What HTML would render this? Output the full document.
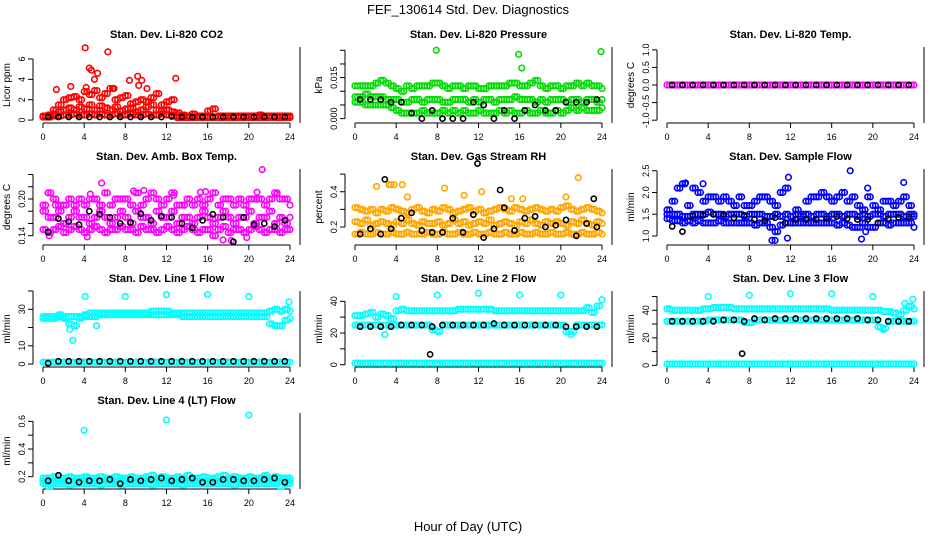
<!DOCTYPE html>
<html><head><meta charset="utf-8">
<style>
html,body{margin:0;padding:0;background:#fff;}
svg{display:block;font-family:"Liberation Sans",Arial,sans-serif;}
</style></head>
<body>
<svg id="chart" width="936" height="540" viewBox="0 0 936 540" xmlns="http://www.w3.org/2000/svg">
<text x="468" y="14" text-anchor="middle" font-size="13">FEF_130614  Std. Dev. Diagnostics</text>
<text x="468" y="531" text-anchor="middle" font-size="13">Hour of Day (UTC)</text>
</svg>
<script>
const xTicks=[0,4,8,12,16,20,24];
const blackHours=[0.5,1.5,2.5,3.5,4.5,5.5,6.5,7.5,8.5,9.5,10.5,11.5,12.5,13.5,14.5,15.5,16.5,17.5,18.5,19.5,20.5,21.5,22.5,23.5];
const colHours=[0,0.5,1,1.5,2,2.5,3,3.5,4,4.5,5,5.5,6,6.5,7,7.5,8,8.5,9,9.5,10,10.5,11,11.5,12,12.5,13,13.5,14,14.5,15,15.5,16,16.5,17,17.5,18,18.5,19,19.5,20,20.5,21,21.5,22,22.5,23,23.5,24];

const p1Hi=[0.4,0.5,1.0,1.5,2.0,2.2,2.3,2.0,2.8,2.5,2.9,2.2,2.6,3.1,2.0,2.2,2.4,1.6,1.8,2.0,1.8,2.2,2.6,1.5,1.8,2.0,0.7,0.5,0.4,0.6,0.4,0.4,0.9,1.1,0.4,0.4,0.4,0.4,0.4,0.4,0.4,0.4,0.5,0.4,0.4,0.4,0.4,0.4,0.4];
const p1Mid=[0.3,0.3,0.6,0.8,1.0,1.2,1.0,1.3,1.1,1.5,1.0,1.4,1.2,1.0,1.3,0.9,1.1,1.2,0.8,1.0,1.3,1.5,1.0,0.9,1.0,0.8,0.4,0.3,0.3,0.3,0.3,0.3,0.3,0.3,0.3,0.3,0.3,0.3,0.3,0.3,0.3,0.3,0.3,0.3,0.3,0.3,0.3,0.3,0.3];
const p1Lo=[0.3,0.3,0.4,0.4,0.5,0.5,0.6,0.5,0.5,0.6,0.5,0.6,0.5,0.5,0.6,0.5,0.5,0.6,0.5,0.5,0.6,0.5,0.5,0.6,0.5,0.5,0.25,0.25,0.25,0.25,0.25,0.25,0.25,0.25,0.25,0.25,0.25,0.25,0.25,0.25,0.25,0.25,0.25,0.25,0.25,0.25,0.25,0.25,0.25];
const p1OutX=[1.3,2.7,4.1,4.2,4.5,4.7,5.0,5.3,6.3,6.9,8.4,9.2,9.3,9.6,10.1,12.9];
const p1OutY=[3.0,3.3,7.1,3.2,5.1,4.9,4.0,4.6,6.7,3.1,3.9,4.3,3.4,3.9,3.1,4.1];
const p1Black=[0.3,0.3,0.3,0.3,0.3,0.3,0.3,0.3,0.3,0.3,0.3,0.3,0.35,0.3,0.3,0.3,0.3,0.3,0.3,0.3,0.3,0.3,0.3,0.3];

const p2Hi=[0.012,0.012,0.012,0.012,0.013,0.014,0.013,0.012,0.011,0.010,0.012,0.011,0.012,0.012,0.012,0.013,0.013,0.012,0.011,0.012,0.012,0.011,0.012,0.012,0.011,0.011,0.012,0.012,0.012,0.012,0.013,0.013,0.012,0.012,0.013,0.014,0.012,0.011,0.012,0.012,0.011,0.012,0.012,0.013,0.012,0.013,0.012,0.012,0.011];
const p2Mid=[0.008,0.008,0.009,0.008,0.008,0.008,0.007,0.007,0.007,0.006,0.006,0.007,0.007,0.006,0.007,0.007,0.007,0.006,0.006,0.007,0.007,0.007,0.006,0.007,0.006,0.007,0.007,0.006,0.007,0.007,0.007,0.008,0.007,0.007,0.007,0.006,0.007,0.006,0.007,0.007,0.007,0.006,0.007,0.007,0.006,0.007,0.007,0.006,0.007];
const p2Lo=[0.006,0.006,0.005,0.005,0.005,0.005,0.005,0.004,0.003,0.002,0.002,0.002,0.002,0.003,0.002,0.002,0.002,0.003,0.002,0.003,0.002,0.003,0.002,0.002,0.003,0.002,0.002,0.002,0.003,0.002,0.003,0.002,0.002,0.003,0.002,0.002,0.003,0.002,0.002,0.003,0.002,0.003,0.004,0.003,0.004,0.003,0.003,0.003,0.004];
const p2OutX=[7.9,15.9,16.2,23.9];
const p2OutY=[0.025,0.0235,0.0185,0.0245];
const p2Black=[0.007,0.007,0.007,0.006,0.006,0.002,0.000,0.003,0.000,0.000,0.000,0.006,0.005,0.000,0.003,0.000,0.003,0.005,0.003,0.003,0.006,0.006,0.006,0.007];

const p3Hi=[0,0,0,0,0,0,0,0,0,0,0,0,0,0,0,0,0,0,0,0,0,0,0,0,0,0,0,0,0,0,0,0,0,0,0,0,0,0,0,0,0,0,0,0,0,0,0,0,0];
const p3Black=[0,0,0,0,0,0,0,0,0,0,0,0,0,0,0,0,0,0,0,0,0,0,0,0];

const p4Hi=[0.19,0.21,0.20,0.19,0.19,0.20,0.19,0.20,0.19,0.20,0.20,0.19,0.21,0.19,0.20,0.20,0.20,0.19,0.21,0.19,0.20,0.21,0.20,0.19,0.20,0.21,0.19,0.19,0.20,0.19,0.20,0.19,0.20,0.21,0.19,0.20,0.20,0.19,0.20,0.19,0.20,0.20,0.20,0.19,0.20,0.21,0.20,0.20,0.19];
const p4Mid=[0.18,0.17,0.17,0.18,0.16,0.17,0.18,0.17,0.17,0.16,0.17,0.18,0.17,0.16,0.17,0.18,0.17,0.16,0.18,0.17,0.17,0.16,0.18,0.17,0.17,0.18,0.16,0.17,0.17,0.16,0.17,0.18,0.17,0.16,0.17,0.18,0.17,0.16,0.17,0.17,0.18,0.16,0.17,0.17,0.18,0.16,0.17,0.16,0.17];
const p4Lo=[0.15,0.145,0.15,0.155,0.145,0.15,0.155,0.15,0.145,0.15,0.155,0.15,0.145,0.15,0.15,0.155,0.15,0.15,0.145,0.155,0.15,0.15,0.145,0.15,0.155,0.15,0.145,0.15,0.155,0.15,0.145,0.15,0.15,0.14,0.15,0.155,0.145,0.15,0.15,0.145,0.15,0.155,0.15,0.145,0.15,0.15,0.145,0.15,0.15];
const p4OutX=[0.5,1.2,4.6,5.7,8.8,9.8,12.7,15.3,15.8,20.8,21.3,22.7,0.6,4.3,17.5,18.3,19.8];
const p4OutY=[0.21,0.19,0.208,0.226,0.213,0.214,0.206,0.211,0.212,0.211,0.248,0.208,0.14,0.138,0.133,0.132,0.137];
const p4Black=[0.146,0.168,0.163,0.158,0.180,0.175,0.170,0.160,0.162,0.176,0.165,0.172,0.170,0.160,0.153,0.165,0.175,0.170,0.130,0.170,0.158,0.160,0.155,0.165];

const p5Hi=[0.31,0.30,0.29,0.30,0.28,0.30,0.29,0.31,0.30,0.29,0.28,0.30,0.31,0.29,0.28,0.30,0.29,0.31,0.30,0.28,0.29,0.30,0.31,0.29,0.30,0.28,0.29,0.30,0.31,0.30,0.29,0.31,0.30,0.29,0.30,0.31,0.30,0.29,0.30,0.29,0.31,0.32,0.30,0.29,0.30,0.31,0.30,0.29,0.28];
const p5Mid=[0.23,0.22,0.24,0.21,0.22,0.23,0.22,0.21,0.23,0.22,0.24,0.22,0.21,0.23,0.22,0.22,0.23,0.21,0.22,0.24,0.22,0.23,0.21,0.22,0.23,0.22,0.24,0.21,0.22,0.23,0.22,0.21,0.23,0.22,0.24,0.22,0.21,0.23,0.22,0.23,0.22,0.21,0.23,0.22,0.24,0.22,0.21,0.23,0.22];
const p5Lo=[0.16,0.17,0.16,0.16,0.17,0.16,0.16,0.17,0.16,0.16,0.17,0.16,0.16,0.16,0.17,0.16,0.16,0.17,0.16,0.16,0.17,0.16,0.16,0.17,0.16,0.16,0.17,0.16,0.16,0.17,0.16,0.16,0.17,0.16,0.16,0.17,0.16,0.16,0.17,0.16,0.16,0.17,0.16,0.16,0.17,0.16,0.16,0.17,0.16];
const p5OutX=[2.1,3.3,3.5,3.8,4.6,5.1,8.7,10.6,12.3,15.2,16.3,21.7,20.5];
const p5OutY=[0.43,0.44,0.44,0.44,0.44,0.37,0.42,0.38,0.40,0.36,0.36,0.48,0.37];
const p5Black=[0.16,0.19,0.16,0.19,0.25,0.28,0.18,0.17,0.17,0.25,0.17,0.27,0.14,0.19,0.31,0.18,0.25,0.26,0.20,0.21,0.24,0.15,0.22,0.20];
const p5BlackOutX=[2.9,11.9,14.1,23.2];
const p5BlackOutY=[0.47,0.56,0.41,0.36];

const p6Hi=[1.6,1.8,2.1,2.2,1.7,2.1,2.0,1.8,1.9,1.9,1.8,1.9,1.8,1.7,1.9,1.7,1.7,1.8,1.9,1.9,1.8,1.7,2.0,2.1,1.3,1.6,1.5,1.8,1.9,1.9,2.0,1.9,1.8,1.9,2.0,1.8,1.9,1.7,1.6,1.9,1.7,1.6,1.8,1.8,1.7,1.8,1.9,1.7,1.5];
const p6Mid=[1.5,1.5,1.5,1.45,1.45,1.5,1.5,1.5,1.55,1.5,1.5,1.45,1.5,1.5,1.5,1.45,1.5,1.5,1.5,1.45,1.45,1.5,1.45,1.5,1.45,1.5,1.45,1.5,1.45,1.5,1.5,1.45,1.5,1.5,1.45,1.5,1.5,1.45,1.5,1.45,1.5,1.5,1.45,1.5,1.5,1.5,1.45,1.5,1.45];
const p6Lo=[1.4,1.35,1.35,1.3,1.35,1.3,1.35,1.3,1.3,1.3,1.35,1.3,1.3,1.3,1.3,1.3,1.3,1.25,1.3,1.3,1.2,1.1,1.25,1.3,1.3,1.3,1.3,1.3,1.3,1.3,1.3,1.3,1.3,1.25,1.3,1.25,1.2,1.2,1.3,1.2,1.2,1.3,1.3,1.25,1.3,1.3,1.3,1.3,1.2];
const p6OutX=[1.5,1.8,3.5,10.2,10.5,11.7,17.8,18.9,19.5,19.3,11.8,23.0];
const p6OutY=[2.2,2.22,2.2,0.9,0.9,0.95,2.5,0.93,2.1,1.1,2.35,2.23];
const p6Black=[1.22,1.10,1.46,1.48,1.50,1.50,1.42,1.48,1.38,1.35,1.42,1.30,1.38,1.38,1.38,1.40,1.45,1.40,1.38,1.38,1.30,1.40,1.43,1.44];

const p7Hi=[26,26,26,27,26,26,26,26,27,28,28,28,28,28,28,28,28,28,28,28,28,29,29,29,29,28,28,28,28,28,28,28,28,28,28,28,28,28,28,28,28,28,28,28,29,30,29,30,29];
const p7Mid=[25,25,25,26,25,22,21,25,26,26,26,27,27,27,27,27,27,27,27,27,27,27,27,27,27,27,27,26,26,26,26,26,26,26,26,26,26,26,26,26,26,26,26,26,22,21,21,24,25];
const p7Lo=[1,1,1,1,1,1,1,1,1,1,1,1,1,1,1,1,1,1,1,1,1,1,1,1,1,1,1,1,1,1,1,1,1,1,1,1,1,1,1,1,1,1,1,1,1,1,1,1,1];
const p7OutX=[4.1,8.0,12.0,16.0,20.0,23.9,2.9,2.6,5.2];
const p7OutY=[37,37,38,38,37,34,13,19,21];
const p7Black=[0.5,1.5,1.5,1.5,1.5,1.5,1.5,1.5,1.5,1.5,1.5,1.5,1.5,1.5,1.5,1.5,1.5,1.5,1.5,1.5,1.5,1.5,1.5,1.5];

const p8Hi=[31,31,32,33,30,32,31,29,34,35,34,34,34,34,34,34,34,34,34,34,35,35,35,35,35,35,35,34,34,34,34,34,34,34,34,34,34,34,34,34,34,34,34,34,34,36,33,37,41];
const p8Mid=[25,25,25,25,25,25,25,25,25,25,25,25,25,25,25,22,21,25,25,25,25,25,25,25,25,25,25,25,25,25,25,25,25,25,25,25,25,25,25,25,25,21,21,25,25,25,25,25,25];
const p8Lo=[1,1,1,1,1,1,1,1,1,1,1,1,1,1,1,1,1,1,1,1,1,1,1,1,1,1,1,1,1,1,1,1,1,1,1,1,1,1,1,1,1,1,1,1,1,1,1,1,1];
const p8OutX=[4.0,8.0,12.0,16.0,20.0,2.9,21.0];
const p8OutY=[43,44,45,44,44,19,19];
const p8Black=[24,24,24,24,25,25,25,24,25,25,25,25,25,26,25,25,25,25,25,25,24,24,24,24];
const p8BlackOutX=[7.3];
const p8BlackOutY=[6.5];

const p9Hi=[41,40,40,40,40,40,40,41,41,42,42,42,42,41,41,41,41,41,41,41,41,41,41,41,41,41,41,41,41,41,41,41,40,40,40,40,40,40,40,40,40,40,39,39,38,37,40,43,41];
const p9Mid=[32,32,32,32,32,32,32,32,33,33,33,33,33,33,33,31,31,33,33,33,33,33,33,33,33,33,33,33,33,33,33,33,33,33,33,33,33,33,33,33,33,28,27,32,32,32,32,32,32];
const p9Lo=[1,1,1,1,1,1,1,1,1,1,1,1,1,1,1,1,1,1,1,1,1,1,1,1,1,1,1,1,1,1,1,1,1,1,1,1,1,1,1,1,1,1,1,1,1,1,1,1,1];
const p9OutX=[4.0,8.0,12.0,16.0,20.0,23.9,23.1,21.0];
const p9OutY=[50,51,52,52,50,48,45,26];
const p9Black=[32,32,32,32,32,33,33,32,34,33,34,34,34,34,34,34,34,34,34,33,33,32,32,32];
const p9BlackOutX=[7.3];
const p9BlackOutY=[8.5];

const p10Hi=[0.19,0.19,0.20,0.19,0.19,0.20,0.19,0.19,0.20,0.19,0.19,0.20,0.19,0.19,0.20,0.19,0.19,0.20,0.19,0.19,0.20,0.21,0.19,0.20,0.19,0.19,0.20,0.19,0.21,0.19,0.19,0.20,0.19,0.19,0.20,0.21,0.19,0.20,0.19,0.19,0.20,0.19,0.19,0.21,0.19,0.20,0.19,0.19,0.19];
const p10Mid=[0.17,0.17,0.17,0.17,0.17,0.17,0.17,0.17,0.17,0.17,0.17,0.17,0.17,0.17,0.17,0.17,0.17,0.17,0.17,0.17,0.17,0.17,0.17,0.17,0.17,0.17,0.17,0.17,0.17,0.17,0.17,0.17,0.17,0.17,0.17,0.17,0.17,0.17,0.17,0.17,0.17,0.17,0.17,0.17,0.17,0.17,0.17,0.17,0.17];
const p10Lo=[0.15,0.13,0.15,0.15,0.15,0.14,0.15,0.15,0.15,0.15,0.15,0.14,0.15,0.15,0.15,0.14,0.15,0.15,0.15,0.15,0.15,0.14,0.15,0.15,0.15,0.15,0.15,0.14,0.15,0.15,0.15,0.15,0.15,0.15,0.15,0.15,0.15,0.14,0.15,0.15,0.15,0.15,0.15,0.15,0.15,0.15,0.13,0.15,0.15];
const p10OutX=[4.0,12.0,20.0];
const p10OutY=[0.535,0.61,0.645];
const p10Black=[0.17,0.21,0.17,0.16,0.17,0.17,0.18,0.15,0.18,0.17,0.18,0.19,0.17,0.18,0.19,0.16,0.16,0.18,0.18,0.17,0.17,0.18,0.19,0.16];

const panels=[
 {id:"co2",title:"Stan. Dev. Li-820 CO2",ylab:"Licor ppm",col:"#ff0000",ylim:[-0.29,7.18],ticks:[0,2,4,6],labels:["0","2","4","6"],series:[p1Hi,p1Mid,p1Lo],ox:p1OutX,oy:p1OutY,black:p1Black},
 {id:"pressure",title:"Stan. Dev. Li-820 Pressure",ylab:"kPa",col:"#00dd00",ylim:[-0.0016,0.0262],ticks:[0,0.005,0.01,0.015,0.02,0.025],labels:["0.000","","","0.015","",""],series:[p2Hi,p2Mid,p2Lo],ox:p2OutX,oy:p2OutY,black:p2Black},
 {id:"temp",title:"Stan. Dev. Li-820 Temp.",ylab:"degrees C",col:"#ff00ff",ylim:[-1.08,1.08],ticks:[-1,-0.5,0,0.5,1],labels:["-1.0","-0.5","0.0","0.5","1.0"],series:[p3Hi],ox:[],oy:[],black:p3Black},
 {id:"ambbox",title:"Stan. Dev. Amb. Box Temp.",ylab:"degrees C",col:"#ff00ff",ylim:[0.1248,0.249],ticks:[0.14,0.16,0.18,0.2,0.22,0.24],labels:["0.14","","","0.20","",""],series:[p4Hi,p4Mid,p4Lo],ox:p4OutX,oy:p4OutY,black:p4Black},
 {id:"rh",title:"Stan. Dev. Gas Stream RH",ylab:"percent",col:"#ffa500",ylim:[0.098,0.529],ticks:[0.2,0.3,0.4,0.5],labels:["0.2","","0.4",""],series:[p5Hi,p5Mid,p5Lo],ox:p5OutX,oy:p5OutY,black:p5Black,bx:p5BlackOutX,by:p5BlackOutY},
 {id:"sampleflow",title:"Stan. Dev. Sample Flow",ylab:"ml/min",col:"#0000ff",ylim:[0.793,2.54],ticks:[1,1.5,2,2.5],labels:["1.0","1.5","2.0","2.5"],series:[p6Hi,p6Mid,p6Lo],ox:p6OutX,oy:p6OutY,black:p6Black},
 {id:"line1",title:"Stan. Dev. Line 1 Flow",ylab:"ml/min",col:"#00ffff",ylim:[-1.6,40],ticks:[0,10,20,30,40],labels:["0","10","","30",""],series:[p7Hi,p7Mid,p7Lo],ox:p7OutX,oy:p7OutY,black:p7Black},
 {id:"line2",title:"Stan. Dev. Line 2 Flow",ylab:"ml/min",col:"#00ffff",ylim:[-1.45,46.5],ticks:[0,10,20,30,40],labels:["0","","20","","40"],series:[p8Hi,p8Mid,p8Lo],ox:p8OutX,oy:p8OutY,black:p8Black,bx:p8BlackOutX,by:p8BlackOutY},
 {id:"line3",title:"Stan. Dev. Line 3 Flow",ylab:"ml/min",col:"#00ffff",ylim:[-1.2,54],ticks:[0,10,20,30,40,50],labels:["0","","20","","40",""],series:[p9Hi,p9Mid,p9Lo],ox:p9OutX,oy:p9OutY,black:p9Black,bx:p9BlackOutX,by:p9BlackOutY},
 {id:"line4",title:"Stan. Dev. Line 4 (LT) Flow",ylab:"ml/min",col:"#00ffff",ylim:[0.111,0.66],ticks:[0.2,0.3,0.4,0.5,0.6],labels:["0.2","","0.4","","0.6"],series:[p10Hi,p10Mid,p10Lo],ox:p10OutX,oy:p10OutY,black:p10Black}
];

const NS="http://www.w3.org/2000/svg";
const svg=document.getElementById('chart');
function mk(tag,attrs,parent){const e=document.createElementNS(NS,tag);for(const k in attrs)e.setAttribute(k,attrs[k]);parent.appendChild(e);return e;}

panels.forEach((p,idx)=>{
  const c=idx%3, r=Math.floor(idx/3);
  const L=33+312*c, R=300+312*c, T=47+122*r, B=123+122*r;
  const x0=43+312*c, x1=290+312*c;
  const sx=v=>x0+(v/24)*(x1-x0);
  const sy=v=>B-(v-p.ylim[0])/(p.ylim[1]-p.ylim[0])*(B-T);
  const g=mk('g',{},svg);
  
  
  const t=mk('text',{x:(L+R)/2,y:T-9,'text-anchor':'middle','font-size':'11','font-weight':'bold'},g);
  t.textContent=p.title;
  
  
  const yl=mk('text',{x:0,y:0,'text-anchor':'middle','font-size':'10',transform:`translate(${10+312*c},${(T+B)/2}) rotate(-90)`},g);
  yl.textContent=p.ylab;
  
  
  const rb=mk('line',{x1:R,y1:T,x2:R,y2:B,stroke:'#000','stroke-width':1},g);
  
  
  const xa=mk('g',{},g);
  
  
  mk('line',{x1:sx(xTicks[0]),y1:B,x2:sx(xTicks[xTicks.length-1]),y2:B,stroke:'#000'},xa);
  xTicks.forEach(v=>{
    mk('line',{x1:sx(v),y1:B,x2:sx(v),y2:B+5,stroke:'#000'},xa);
    const tl=mk('text',{x:sx(v),y:B+17,'text-anchor':'middle','font-size':'9'},xa);
    tl.textContent=v;
    
    
  });
  const ya=mk('g',{},g);
  
  
  mk('line',{x1:L,y1:sy(p.ticks[0]),x2:L,y2:sy(p.ticks[p.ticks.length-1]),stroke:'#000'},ya);
  p.ticks.forEach((v,i)=>{
    mk('line',{x1:L-5,y1:sy(v),x2:L,y2:sy(v),stroke:'#000'},ya);
    if(p.labels[i]){
      const tl=mk('text',{x:0,y:0,'text-anchor':'middle','font-size':'9',transform:`translate(${L-8},${sy(v)}) rotate(-90)`},ya);
      tl.textContent=p.labels[i];
      
      
    }
  });
  const cs=mk('g',{fill:'none',stroke:p.col,'stroke-width':1.6},g);
  
  
  p.series.forEach(arr=>{
    arr.forEach((v,i)=>{
      const pt=mk('circle',{cx:sx(colHours[i]),cy:sy(v),r:2.8},cs);
      
      
      if(i<arr.length-1){
        const pt2=mk('circle',{cx:sx(colHours[i])+2.6,cy:sy(v),r:2.8},cs);
        
        
      }
    });
  });
  p.ox.forEach((xv,i)=>{
    const pt=mk('circle',{cx:sx(xv),cy:sy(p.oy[i]),r:2.8},cs);
    
    
  });
  const bs=mk('g',{fill:'none',stroke:'#000','stroke-width':1.6},g);
  
  
  p.black.forEach((v,i)=>{
    const pt=mk('circle',{cx:sx(blackHours[i]),cy:sy(v),r:2.6},bs);
    
    
  });
  if(p.bx){p.bx.forEach((xv,i)=>{
    const pt=mk('circle',{cx:sx(xv),cy:sy(p.by[i]),r:2.6},bs);
    
    
  });}
});
</script>
</body></html>
